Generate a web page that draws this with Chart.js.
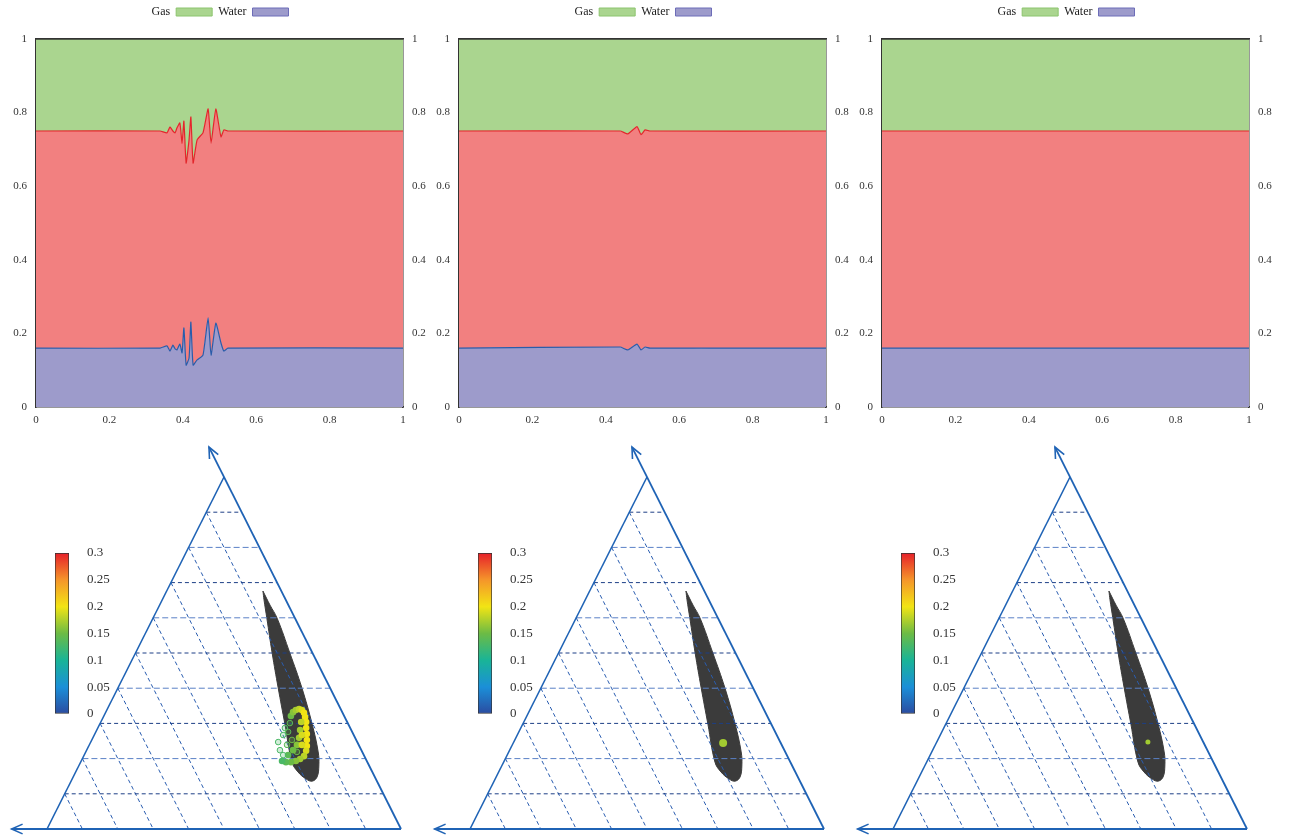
<!DOCTYPE html>
<html>
<head>
<meta charset="utf-8">
<title>Gas / oil / water layers and ternary diagrams</title>
<script src="https://cdn.jsdelivr.net/npm/chart.js@4/dist/chart.umd.min.js"></script>
<style>
  body { margin: 0; background: #fff; width: 1290px; height: 837px; overflow: hidden; position: relative; }
  .box { position: absolute; }
</style>
</head>
<body>
<div class="box" style="left:0px;top:0px;width:440px;height:430px"><canvas id="top1"></canvas></div>
<div class="box" style="left:423px;top:0px;width:440px;height:430px"><canvas id="top2"></canvas></div>
<div class="box" style="left:846px;top:0px;width:440px;height:430px"><canvas id="top3"></canvas></div>
<div class="box" style="left:0px;top:440px;width:430px;height:397px"><canvas id="tern1"></canvas></div>
<div class="box" style="left:423px;top:440px;width:430px;height:397px"><canvas id="tern2"></canvas></div>
<div class="box" style="left:846px;top:440px;width:430px;height:397px"><canvas id="tern3"></canvas></div>
<div class="box" style="left:50px;top:540px;width:80px;height:190px"><canvas id="cb1"></canvas></div>
<div class="box" style="left:473px;top:540px;width:80px;height:190px"><canvas id="cb2"></canvas></div>
<div class="box" style="left:896px;top:540px;width:80px;height:190px"><canvas id="cb3"></canvas></div>
<script>
// ---- top row: layer boundaries (x along the domain, saturation height) ----
const tickVals = [0, 0.2, 0.4, 0.6, 0.8, 1];

const xA = [0, 0.338, 0.357, 0.365, 0.373, 0.379, 0.384, 0.392, 0.398, 0.403, 0.409, 0.417,
            0.422, 0.428, 0.439, 0.455, 0.469, 0.477, 0.490, 0.504, 0.512, 0.523, 1];
const gasA = [0.75, 0.75, 0.745, 0.761, 0.75, 0.745, 0.758, 0.772, 0.717, 0.777, 0.663, 0.726,
              0.788, 0.663, 0.726, 0.745, 0.81, 0.717, 0.81, 0.734, 0.753, 0.75, 0.75];
const waterA = [0.16, 0.16, 0.166, 0.152, 0.168, 0.158, 0.155, 0.171, 0.147, 0.215, 0.114, 0.133,
                0.231, 0.114, 0.128, 0.141, 0.242, 0.141, 0.228, 0.174, 0.152, 0.16, 0.16];

const xB = [0, 0.439, 0.460, 0.485, 0.496, 0.507, 0.520, 1];
const gasB = [0.75, 0.75, 0.742, 0.762, 0.74, 0.753, 0.75, 0.75];
const waterB = [0.16, 0.163, 0.155, 0.171, 0.155, 0.163, 0.16, 0.16];

const xC = [0, 1];
const gasC = [0.75, 0.75];
const waterC = [0.16, 0.16];

// ---- bottom row: ternary diagrams ----
const gridLevels = [0.1, 0.2, 0.3, 0.4, 0.5, 0.6, 0.7, 0.8, 0.9];

// dark region (same in every panel)
const blobX = [0.610, 0.630, 0.650, 0.686, 0.720, 0.749, 0.766, 0.768, 0.763, 0.749, 0.732,
               0.709, 0.692, 0.672, 0.653, 0.636, 0.621, 0.613, 0.610];
const blobY = [0.676, 0.636, 0.599, 0.500, 0.401, 0.298, 0.219, 0.182, 0.148, 0.136, 0.142,
               0.162, 0.190, 0.298, 0.401, 0.500, 0.599, 0.651, 0.676];

// states, panel 1 (filled band + hollow markers), value = colour
const arcAx = [0.689, 0.695, 0.703, 0.712, 0.720, 0.726, 0.729, 0.732, 0.732, 0.734, 0.734, 0.734,
               0.732, 0.726, 0.715, 0.703, 0.689, 0.675, 0.664,
               0.718, 0.715, 0.712, 0.706, 0.695, 0.681, 0.720, 0.720];
const arcAy = [0.321, 0.332, 0.338, 0.341, 0.338, 0.330, 0.318, 0.304, 0.287, 0.270, 0.253, 0.236,
               0.222, 0.207, 0.199, 0.193, 0.190, 0.190, 0.193,
               0.304, 0.281, 0.259, 0.239, 0.224, 0.210, 0.239, 0.267];
const arcAv = [0.15, 0.16, 0.17, 0.18, 0.19, 0.2, 0.2, 0.2, 0.2, 0.2, 0.2, 0.2,
               0.19, 0.18, 0.17, 0.16, 0.15, 0.14, 0.13,
               0.18, 0.17, 0.17, 0.16, 0.15, 0.14, 0.19, 0.19];
const ringAx = [0.686, 0.672, 0.681, 0.667, 0.692, 0.653, 0.658, 0.667, 0.706, 0.678];
const ringAy = [0.301, 0.287, 0.276, 0.267, 0.253, 0.247, 0.224, 0.210, 0.219, 0.239];
const ringAv = [0.14, 0.13, 0.14, 0.13, 0.15, 0.13, 0.13, 0.13, 0.15, 0.14];

const dotBx = [0.715], dotBy = [0.244], dotBv = [0.17];
const dotCx = [0.720], dotCy = [0.247], dotCv = [0.17];

// colour bar
const cmapVals = [0, 0.05, 0.1, 0.15, 0.2, 0.25, 0.3];
const cmapColors = ['#2b4ba0', '#1b8fd8', '#19b497', '#6cbb45', '#f2e414', '#f5952a', '#e6202a'];
const cbTicks = [0, 0.05, 0.1, 0.15, 0.2, 0.25, 0.3];

const FONT = 'Liberation Serif';
const EDGE = '#1f63b5';

function hexRgb(h) {
    return [parseInt(h.slice(1, 3), 16), parseInt(h.slice(3, 5), 16), parseInt(h.slice(5, 7), 16)];
}

// linear interpolation in the colour map
function cmap(v, alpha) {
    let i = 0;
    while (i < cmapVals.length - 2 && v > cmapVals[i + 1]) i++;
    const t = Math.max(0, Math.min(1, (v - cmapVals[i]) / (cmapVals[i + 1] - cmapVals[i])));
    const a = hexRgb(cmapColors[i]), b = hexRgb(cmapColors[i + 1]);
    const c = a.map((q, k) => Math.round(q + (b[k] - q) * t));
    return 'rgba(' + c.join(',') + ',' + (alpha === undefined ? 1 : alpha) + ')';
}

function pts(xs, ys) {
    return xs.map((x, i) => ({x: x, y: ys[i]}));
}

function makeTop(id, xs, gas, water) {
    const tickFont = {family: FONT, size: 11};
    const yAxis = (pos, w) => ({
        type: 'linear', position: pos, min: 0, max: 1,
        afterBuildTicks: (a) => { a.ticks = tickVals.map(v => ({value: v})); },
        afterFit: (s) => { s.width = w; },
        ticks: {font: tickFont, color: '#333', padding: 9, callback: (v) => String(v)},
        grid: {display: false, drawTicks: false},
        border: {display: true, color: '#333', width: 1.5}
    });
    new Chart(document.getElementById(id), {
        type: 'line',
        data: {
            datasets: [
                {label: 'Water', data: pts(xs, water), borderColor: '#2a5caa', borderWidth: 1.2,
                 backgroundColor: '#9d9bcb', fill: 'origin', pointRadius: 0, tension: 0.15},
                {label: 'Oil', data: pts(xs, gas), borderColor: '#e3262b', borderWidth: 1.2,
                 backgroundColor: '#f28080', fill: '-1', pointRadius: 0, tension: 0.15},
                {label: 'Gas', data: xs.map(x => ({x: x, y: 1})), borderColor: '#333', borderWidth: 1.5,
                 backgroundColor: '#aad58f', fill: '-1', pointRadius: 0}
            ]
        },
        options: {
            animation: false,
            responsive: true,
            maintainAspectRatio: false,
            layout: {padding: {top: 0}},
            plugins: {
                tooltip: {enabled: false},
                legend: {
                    rtl: true,
                    textDirection: 'ltr',
                    labels: {
                        font: {family: FONT, size: 12},
                        color: '#222',
                        boxWidth: 36,
                        boxHeight: 8,
                        padding: 6,
                        generateLabels: function (chart) {
                            return Chart.defaults.plugins.legend.labels.generateLabels(chart)
                                .filter(l => l.text !== 'Oil')
                                .map(l => Object.assign(l, {
                                    strokeStyle: l.text === 'Gas' ? '#8cc46e' : '#6d6db8',
                                    lineWidth: 1
                                }));
                        }
                    }
                }
            },
            scales: {
                x: {
                    type: 'linear', min: 0, max: 1,
                    afterBuildTicks: (a) => { a.ticks = tickVals.map(v => ({value: v})); },
                    afterFit: (s) => { s.height = 23; },
                    ticks: {font: tickFont, color: '#333', padding: 7, callback: (v) => String(v)},
                    grid: {display: false, drawTicks: false},
                    border: {display: true, color: '#333', width: 1.5}
                },
                x2: {
                    type: 'linear', position: 'top', min: 0, max: 1,
                    afterFit: (s) => { s.height = 11; },
                    ticks: {display: false},
                    grid: {display: false, drawTicks: false},
                    border: {display: true, color: '#333', width: 1.5}
                },
                y: yAxis('left', 36),
                y2: yAxis('right', 37)
            }
        }
    });
}

// open chevron at the end of an axis arrow
function arrowHead(tip, from) {
    const dx = from.x - tip.x, dy = from.y - tip.y;
    const len = Math.hypot(dx, dy);
    const ux = dx / len, uy = dy / len;
    const L = 0.034, a = 0.42;
    const rot = (s) => ({
        x: tip.x + L * (ux * Math.cos(s) - uy * Math.sin(s)),
        y: tip.y + L * (ux * Math.sin(s) + uy * Math.cos(s))
    });
    return [rot(a), tip, rot(-a)];
}

function lineDs(data, color, width, dash, order) {
    return {data: data, borderColor: color, borderWidth: width, borderDash: dash || [],
            pointRadius: 0, fill: false, tension: 0, order: order, clip: false};
}

function makeTernary(id, dotSets) {
    const ds = [];
    // dark region
    ds.push({data: pts(blobX, blobY), borderColor: '#3b3b3b', borderWidth: 1, backgroundColor: '#3b3b3b',
             fill: 'shape', pointRadius: 0, tension: 0.4, order: 3});
    // grid
    gridLevels.forEach((f, k) => {
        const odd = k % 2 === 0;
        ds.push(lineDs([{x: 0.5 * f, y: f}, {x: 1 - 0.5 * f, y: f}],
                       odd ? '#1d3f86' : '#5a80c6', 1, odd ? [4, 3] : [6, 3], 2));
        ds.push(lineDs([{x: 0.5 * f, y: f}, {x: f, y: 0}], '#2a5db0', 1, [4, 3], 2));
    });
    // edges and arrows
    const topTip = {x: 0.4575, y: 1.085}, leftTip = {x: -0.1, y: 0};
    ds.push(lineDs([{x: 0, y: 0}, {x: 0.5, y: 1}], EDGE, 1.6, null, 1));
    ds.push(lineDs([{x: 1, y: 0}, topTip], EDGE, 1.8, null, 1));
    ds.push(lineDs([{x: 1, y: 0}, leftTip], EDGE, 1.8, null, 1));
    ds.push(lineDs(arrowHead(topTip, {x: 1, y: 0}), EDGE, 1.6, null, 1));
    ds.push(lineDs(arrowHead(leftTip, {x: 1, y: 0}), EDGE, 1.6, null, 1));
    // states
    dotSets.forEach(s => {
        ds.push({data: pts(s.x, s.y), showLine: false, order: 0,
                 pointRadius: s.r, pointBorderWidth: s.ring ? 1 : 0,
                 pointBorderColor: s.v.map(v => cmap(v)),
                 pointBackgroundColor: s.v.map(v => cmap(v, s.ring ? 0.25 : 1))});
    });
    new Chart(document.getElementById(id), {
        type: 'line',
        data: {datasets: ds},
        options: {
            animation: false,
            responsive: true,
            maintainAspectRatio: false,
            layout: {padding: 0, autoPadding: false},
            plugins: {legend: {display: false}, tooltip: {enabled: false}},
            scales: {
                x: {type: 'linear', min: -0.1328, max: 1.0819, display: false},
                y: {type: 'linear', min: -0.0227, max: 1.1051, display: false}
            }
        }
    });
}

function makeColorbar(id) {
    new Chart(document.getElementById(id), {
        type: 'bar',
        data: {
            labels: [''],
            datasets: [{
                data: [cbTicks[cbTicks.length - 1]],
                backgroundColor: function (ctx) {
                    const area = ctx.chart.chartArea;
                    if (!area) return '#888';
                    const g = ctx.chart.ctx.createLinearGradient(0, area.bottom, 0, area.top);
                    cmapVals.forEach((v, i) => g.addColorStop(v / cmapVals[cmapVals.length - 1], cmapColors[i]));
                    return g;
                },
                borderColor: '#333', borderWidth: 1, borderSkipped: false,
                categoryPercentage: 1, barPercentage: 1
            }]
        },
        options: {
            animation: false,
            responsive: true,
            maintainAspectRatio: false,
            layout: {padding: {left: 5, top: 13, bottom: 16}, autoPadding: false},
            plugins: {legend: {display: false}, tooltip: {enabled: false}},
            scales: {
                x: {display: false},
                y: {
                    position: 'right', min: 0, max: 0.3, z: 1,
                    afterBuildTicks: (a) => { a.ticks = cbTicks.map(v => ({value: v})); },
                    afterFit: (s) => { s.width = 61; s.paddingTop = 0; s.paddingBottom = 0; },
                    ticks: {font: {family: FONT, size: 13}, color: '#333', padding: 18,
                            callback: (v) => String(+v.toFixed(2))},
                    grid: {drawTicks: false, lineWidth: 1,
                           color: (c) => (c.index === 0 || c.index === cbTicks.length - 1) ? 'rgba(0,0,0,0)' : '#222'},
                    border: {display: false, dash: [4, 3]}
                }
            }
        }
    });
}

makeTop('top1', xA, gasA, waterA);
makeTop('top2', xB, gasB, waterB);
makeTop('top3', xC, gasC, waterC);

makeTernary('tern1', [
    {x: ringAx, y: ringAy, v: ringAv, r: 2.8, ring: true},
    {x: arcAx, y: arcAy, v: arcAv, r: 3.3, ring: false}
]);
makeTernary('tern2', [{x: dotBx, y: dotBy, v: dotBv, r: 4, ring: false}]);
makeTernary('tern3', [{x: dotCx, y: dotCy, v: dotCv, r: 2.5, ring: false}]);

makeColorbar('cb1');
makeColorbar('cb2');
makeColorbar('cb3');
</script>
</body>
</html>
